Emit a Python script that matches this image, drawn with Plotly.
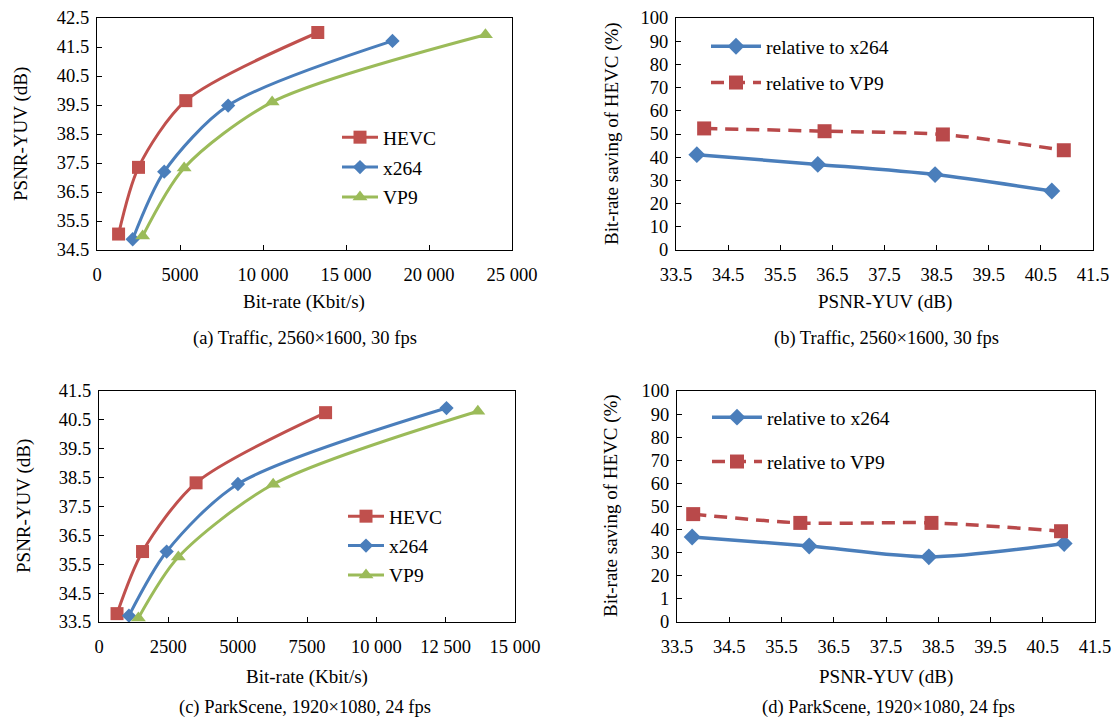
import plotly.graph_objects as go

# ---------------- data ----------------
# (a) Traffic, 2560x1600, 30 fps : rate-distortion curves
a_hevc_rate = [1300, 2500, 5350, 13300]
a_hevc_psnr = [35.05, 37.35, 39.65, 42.0]
a_x264_rate = [2150, 4050, 7900, 17800]
a_x264_psnr = [34.87, 37.2, 39.48, 41.71]
a_vp9_rate = [2750, 5250, 10550, 23400]
a_vp9_psnr = [34.98, 37.33, 39.6, 41.92]

# (b) Traffic : bit-rate saving of HEVC
b_x264_psnr = [33.9, 36.22, 38.47, 40.71]
b_x264_saving = [41.1, 36.9, 32.5, 25.4]
b_vp9_psnr = [34.04, 36.35, 38.62, 40.94]
b_vp9_saving = [52.4, 51.2, 49.8, 43.0]

# (c) ParkScene, 1920x1080, 24 fps : rate-distortion curves
c_hevc_rate = [650, 1570, 3500, 8170]
c_hevc_psnr = [33.79, 35.94, 38.32, 40.75]
c_x264_rate = [1080, 2440, 5010, 12530]
c_x264_psnr = [33.72, 35.94, 38.28, 40.91]
c_vp9_rate = [1420, 2860, 6280, 13660]
c_vp9_psnr = [33.64, 35.75, 38.27, 40.8]

# (d) ParkScene : bit-rate saving of HEVC
d_x264_psnr = [33.79, 36.03, 38.32, 40.91]
d_x264_saving = [36.8, 32.9, 28.2, 34.0]
d_vp9_psnr = [33.81, 35.86, 38.37, 40.85]
d_vp9_saving = [46.7, 42.9, 42.9, 39.3]

# tick labels
a_xticks = [0, 5000, 10000, 15000, 20000, 25000]
a_xtext = ["0", "5000", "10 000", "15 000", "20 000", "25 000"]
a_yticks = [34.5, 35.5, 36.5, 37.5, 38.5, 39.5, 40.5, 41.5, 42.5]
c_xticks = [0, 2500, 5000, 7500, 10000, 12500, 15000]
c_xtext = ["0", "2500", "5000", "7500", "10 000", "12 500", "15 000"]
c_yticks = [33.5, 34.5, 35.5, 36.5, 37.5, 38.5, 39.5, 40.5, 41.5]
psnr_ticks = [33.5, 34.5, 35.5, 36.5, 37.5, 38.5, 39.5, 40.5, 41.5]
saving_ticks = [0, 10, 20, 30, 40, 50, 60, 70, 80, 90, 100]
b_ytext = ["0", "10", "20", "30", "40", "50", "60", "70", "80", "90", "100"]
d_ytext = ["0", "1", "20", "30", "40", "50", "60", "70", "80", "90", "100"]

captions = ["(a) Traffic, 2560×1600, 30 fps", "(b) Traffic, 2560×1600, 30 fps",
            "(c) ParkScene, 1920×1080, 24 fps", "(d) ParkScene, 1920×1080, 24 fps"]

# ---------------- style ----------------
W, H = 1115, 719
FONT = "Liberation Serif, Times New Roman, serif"
RED = "#C0504D"
BLUE = "#4A7EBB"
GREEN = "#9BBB59"
DRED = "#B9494A"


def px(x):
    return x / W


def py(y):
    return 1 - y / H


def f(size):
    return dict(family=FONT, size=size, color="black")


fig = go.Figure()


def rd_traces(xa, ya, legend, hevc, x264, vp9):
    specs = [("HEVC", hevc, RED, "square", 13),
             ("x264", x264, BLUE, "diamond", 11),
             ("VP9", vp9, GREEN, "triangle-up", 13)]
    for name, (xs, ys), col, sym, sz in specs:
        fig.add_trace(go.Scatter(
            x=xs, y=ys, name=name, mode="lines+markers",
            line=dict(color=col, width=3, shape="spline", smoothing=0.8),
            marker=dict(color=col, symbol=sym, size=sz),
            xaxis=xa, yaxis=ya, legend=legend, legendgroup=legend + name))


def sav_traces(xa, ya, legend, x264, vp9):
    fig.add_trace(go.Scatter(
        x=x264[0], y=x264[1], name="relative to x264", mode="lines+markers",
        line=dict(color=BLUE, width=3.5, shape="spline", smoothing=0.8),
        marker=dict(color=BLUE, symbol="diamond", size=13),
        xaxis=xa, yaxis=ya, legend=legend, legendgroup=legend + "x264"))
    fig.add_trace(go.Scatter(
        x=vp9[0], y=vp9[1], name="relative to VP9", mode="lines+markers",
        line=dict(color=DRED, width=3.5, shape="spline", smoothing=0.8, dash="13px,8px"),
        marker=dict(color=DRED, symbol="square", size=14),
        xaxis=xa, yaxis=ya, legend=legend, legendgroup=legend + "vp9"))


rd_traces("x", "y", "legend", (a_hevc_rate, a_hevc_psnr), (a_x264_rate, a_x264_psnr),
          (a_vp9_rate, a_vp9_psnr))
sav_traces("x2", "y2", "legend2", (b_x264_psnr, b_x264_saving), (b_vp9_psnr, b_vp9_saving))
rd_traces("x3", "y3", "legend3", (c_hevc_rate, c_hevc_psnr), (c_x264_rate, c_x264_psnr),
          (c_vp9_rate, c_vp9_psnr))
sav_traces("x4", "y4", "legend4", (d_x264_psnr, d_x264_saving), (d_vp9_psnr, d_vp9_saving))


def ax(**kw):
    base = dict(showline=True, mirror=True, linecolor="black", linewidth=1.2,
                ticks="inside", ticklen=5, tickcolor="black", tickwidth=1,
                showgrid=False, zeroline=False, tickfont=f(18.5), automargin=False)
    base.update(kw)
    return base


eps = 1e-6
layout = dict(
    width=W, height=H, margin=dict(l=0, r=0, t=0, b=0, autoexpand=False),
    paper_bgcolor="white", plot_bgcolor="white", font=f(18.5),
    xaxis=ax(domain=[px(97), px(512)], range=[0 - eps, 25000 + eps], tickvals=a_xticks,
             ticktext=a_xtext, anchor="y", ticklabelstandoff=8),
    yaxis=ax(domain=[py(250), py(18)], range=[34.5 - eps, 42.5 + eps], tickvals=a_yticks,
             ticktext=[f"{v:.1f}" for v in a_yticks], anchor="x", ticklabelstandoff=3),
    xaxis2=ax(domain=[px(676), px(1093)], range=[33.5 - eps, 41.5 + eps], tickvals=psnr_ticks,
              ticktext=[f"{v:.1f}" for v in psnr_ticks], anchor="y2", ticklabelstandoff=8),
    yaxis2=ax(domain=[py(250), py(18)], range=[0 - eps, 100 + eps], tickvals=saving_ticks,
              ticktext=b_ytext, anchor="x2", ticklabelstandoff=3),
    xaxis3=ax(domain=[px(99), px(515)], range=[0 - eps, 15000 + eps], tickvals=c_xticks,
              ticktext=c_xtext, anchor="y3", ticklabelstandoff=8),
    yaxis3=ax(domain=[py(622), py(391)], range=[33.5 - eps, 41.5 + eps], tickvals=c_yticks,
              ticktext=[f"{v:.1f}" for v in c_yticks], anchor="x3", ticklabelstandoff=3),
    xaxis4=ax(domain=[px(677), px(1095)], range=[33.5 - eps, 41.5 + eps], tickvals=psnr_ticks,
              ticktext=[f"{v:.1f}" for v in psnr_ticks], anchor="y4", ticklabelstandoff=8),
    yaxis4=ax(domain=[py(622), py(391)], range=[0 - eps, 100 + eps], tickvals=saving_ticks,
              ticktext=d_ytext, anchor="x4", ticklabelstandoff=3),
    showlegend=True,
)


def leg(x, y, gap, iw):
    return dict(x=px(x), y=py(y), tracegroupgap=gap, itemwidth=iw, font=f(19.5),
                bgcolor="rgba(0,0,0,0)", borderwidth=0,
                xanchor="left", yanchor="top", xref="paper", yref="paper")


layout["legend"] = leg(337, 118, 1.5, 36)
layout["legend2"] = leg(706, 27, 8, 50)
layout["legend3"] = leg(343, 497, 1, 36)
layout["legend4"] = leg(707, 398, 16, 50)

fig.update_layout(**layout)

anns = []
# x-axis titles
for x, y, t in [(304, 302, "Bit-rate (Kbit/s)"), (885, 302, "PSNR-YUV (dB)"),
                (307, 677, "Bit-rate (Kbit/s)"), (886, 677, "PSNR-YUV (dB)")]:
    anns.append(dict(x=px(x), y=py(y), xref="paper", yref="paper", text=t, showarrow=False,
                     font=f(19), xanchor="center", yanchor="middle"))
# y-axis titles
for x, y, t in [(21, 134, "PSNR-YUV (dB)"), (612, 134, "Bit-rate saving of HEVC (%)"),
                (24, 506, "PSNR-YUV (dB)"), (611, 506, "Bit-rate saving of HEVC (%)")]:
    anns.append(dict(x=px(x), y=py(y), xref="paper", yref="paper", text=t, showarrow=False,
                     font=f(19), textangle=-90, xanchor="center", yanchor="middle"))
# captions
for (x, y), t in zip([(305, 338), (886, 338), (305, 707), (888, 707)], captions):
    anns.append(dict(x=px(x), y=py(y), xref="paper", yref="paper", text=t, showarrow=False,
                     font=f(18.5), xanchor="center", yanchor="middle"))
fig.update_layout(annotations=anns)

fig.write_html(
    "out.html",
    config={"displayModeBar": False},
    post_script="document.body.style.margin='0';document.body.style.overflow='hidden';",
)
